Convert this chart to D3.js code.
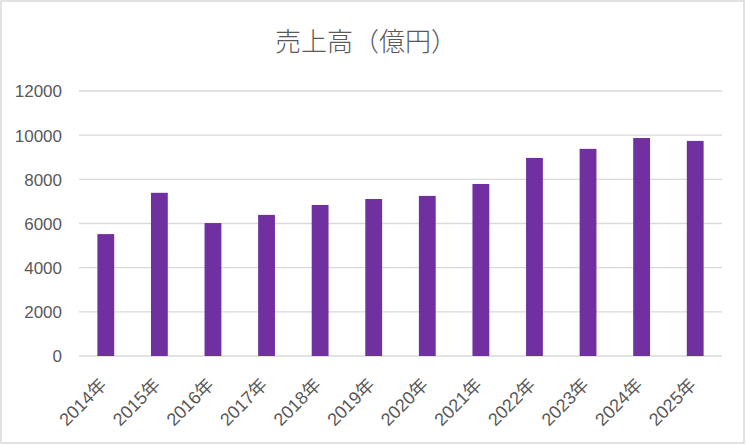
<!DOCTYPE html>
<html>
<head>
<meta charset="utf-8">
<script src="https://cdn.jsdelivr.net/npm/d3@7"></script>
<style>
  body { margin: 0; background: #fff; }
  text { fill: #595959; }
</style>
</head>
<body>
<div id="wrapper"></div>
<script>
// data
const years = ["2014年", "2015年", "2016年", "2017年", "2018年", "2019年",
               "2020年", "2021年", "2022年", "2023年", "2024年", "2025年"];
const sales = [5520, 7390, 6020, 6390, 6840, 7110, 7250, 7790, 8970, 9380, 9870, 9740];
const yTicks = [0, 2000, 4000, 6000, 8000, 10000, 12000];
const title = "売上高（億円）";

const width = 746, height = 445;
const margin = {top: 91, left: 79, right: 24, bottom: 89};

const svg = d3.select("#wrapper").append("svg")
    .attr("width", width)
    .attr("height", height);

// outer chart border
svg.append("rect")
    .attr("x", 1).attr("y", 1)
    .attr("width", width - 3).attr("height", height - 3)
    .attr("fill", "#fff")
    .attr("stroke", "#d9d9d9")
    .attr("stroke-width", 1.5);

const yScale = d3.scaleLinear()
    .domain([0, 12000])
    .range([height - margin.bottom, margin.top]);

const xScale = d3.scaleBand()
    .domain(years)
    .range([margin.left, width - margin.right])
    .paddingInner(0.686)
    .paddingOuter(0.343);

// gridlines
svg.append("g")
    .selectAll("line")
    .data(yTicks)
    .join("line")
    .attr("x1", margin.left)
    .attr("x2", width - margin.right)
    .attr("y1", d => yScale(d))
    .attr("y2", d => yScale(d))
    .attr("stroke", "#d9d9d9")
    .attr("stroke-width", 1.3);

// y axis labels
const yAxis = svg.append("g")
    .attr("transform", `translate(${margin.left - 17},0)`)
    .call(d3.axisLeft(yScale).tickValues(yTicks).tickSize(0).tickFormat(d3.format("d")));
yAxis.select(".domain").remove();
yAxis.selectAll("text")
    .attr("x", 0)
    .attr("dy", "0.35em")
    .style("font-family", "'Liberation Sans', Arial, sans-serif")
    .style("font-size", "17px")
    .style("fill", "#595959");

// bars
svg.append("g")
    .selectAll("rect")
    .data(sales)
    .join("rect")
    .attr("x", (d, i) => xScale(years[i]))
    .attr("width", xScale.bandwidth())
    .attr("y", d => yScale(d))
    .attr("height", d => yScale(0) - yScale(d))
    .attr("fill", "#7030a0");

// x axis labels, rotated 45 degrees
const xAxis = svg.append("g")
    .attr("transform", `translate(0,${height - margin.bottom})`)
    .call(d3.axisBottom(xScale).tickSize(0));
xAxis.select(".domain").remove();
xAxis.selectAll("text")
    .attr("text-anchor", "end")
    .attr("transform", "translate(2,30) rotate(-45)")
    .attr("y", 0)
    .attr("dy", 0)
    .style("font-family", "'Liberation Sans', 'Noto Sans CJK JP', sans-serif")
    .style("font-size", "18px")
    .style("fill", "#595959");

// title
svg.append("text")
    .attr("x", 366)
    .attr("y", 51)
    .attr("text-anchor", "middle")
    .style("font-family", "'Noto Sans CJK JP', sans-serif")
    .style("font-size", "26px")
    .style("font-weight", 300)
    .style("fill", "#595959")
    .text(title);
</script>
</body>
</html>
